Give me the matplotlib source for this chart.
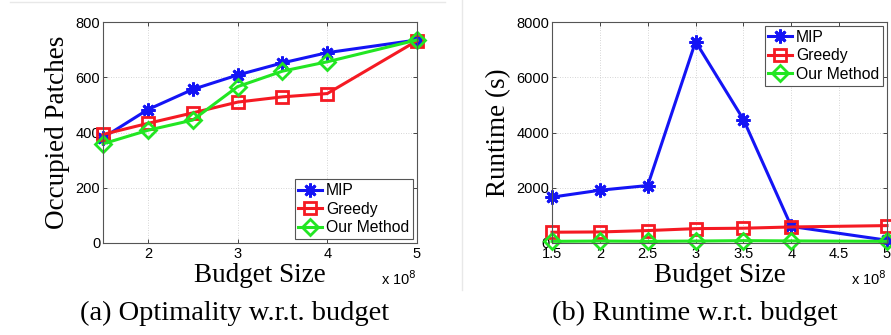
import matplotlib
matplotlib.use("Agg")
import matplotlib.pyplot as plt
from matplotlib.lines import Line2D

# ---- data ----
budget = [1.5, 2, 2.5, 3, 3.5, 4, 5]
series_names = ["MIP", "Greedy", "Our Method"]

occ_mip = [381, 483, 556, 608, 652, 689, 735]
occ_greedy = [393, 433, 471, 510, 529, 541, 732]
occ_ours = [359, 408, 445, 566, 622, 656, 735]

rt_mip = [1660, 1910, 2080, 7290, 4470, 600, 100]
rt_greedy = [390, 400, 450, 520, 535, 580, 630]
rt_ours = [60, 70, 60, 70, 85, 75, 60]

left_xticks = [2, 3, 4, 5]
right_xticks = [1.5, 2, 2.5, 3, 3.5, 4, 4.5, 5]
left_yticks = [0, 200, 400, 600, 800]
right_yticks = [0, 2000, 4000, 6000, 8000]

captions = ["(a) Optimality w.r.t. budget", "(b) Runtime w.r.t. budget"]

SANS = "Liberation Sans"
SERIF = "Liberation Serif"

colors = ["#1414f5", "#f51a23", "#22e622"]
markers = [(8, 2, 0), "s", "D"]
msizes = [10, 8, 8]

fig = plt.figure(figsize=(8.91, 3.35), dpi=100)
W, H = 891, 335

def ax_rect(l, r, t, b):
    return [l / W, 1 - b / H, (r - l) / W, (b - t) / H]

ax1 = fig.add_axes(ax_rect(103, 417, 22, 243))
ax2 = fig.add_axes(ax_rect(552, 887, 22, 243))

def style(ax, xt, yt, ylim, xticklabels):
    ax.set_xlim(1.5, 5)
    ax.set_ylim(*ylim)
    ax.set_xticks(xt)
    ax.set_xticklabels(xticklabels, fontfamily=SANS, fontsize=10.5)
    ax.set_yticks(yt)
    ax.set_yticklabels([str(v) for v in yt], fontfamily=SANS, fontsize=10.5)
    ax.tick_params(direction="in", length=3, top=True, right=True, width=0.7,
                   color="#444444", pad=2)
    ax.tick_params(axis="x", pad=3)
    ax.grid(True, linestyle=(0, (1, 2)), color="#c8c8c8", linewidth=0.6)
    for s in ax.spines.values():
        s.set_color("#555555")
        s.set_linewidth(0.8)

def draw(ax, ys):
    for y, c, m, ms, name in zip(ys, colors, markers, msizes, series_names):
        kw = dict(color=c, linewidth=2.2, marker=m, markersize=ms,
                  markeredgewidth=2.0, label=name, clip_on=False)
        if m != markers[0]:
            kw["markerfacecolor"] = "none"
        ax.plot(budget, y, **kw)

draw(ax1, [occ_mip, occ_greedy, occ_ours])
style(ax1, left_xticks, left_yticks, (0, 800), [str(v) for v in left_xticks])
draw(ax2, [rt_mip, rt_greedy, rt_ours])
style(ax2, right_xticks, right_yticks, (0, 8000),
      [("%g" % v) for v in right_xticks])

for ax, lab in [(ax1, "Occupied Patches"), (ax2, "Runtime (s)")]:
    ax.set_ylabel(lab, fontfamily=SERIF, fontsize=19.5, labelpad=4)
    ax.set_xlabel("Budget Size", fontfamily=SERIF, fontsize=19.5, labelpad=1)

legkw = dict(prop={"family": SANS, "size": 11.3}, fancybox=False,
             edgecolor="#555555", framealpha=1, borderpad=0.25,
             labelspacing=0.22, handlelength=1.5, handletextpad=0.25,
             borderaxespad=0.25)
leg1 = ax1.legend(loc="lower right", **legkw)
leg2 = ax2.legend(loc="upper right", **legkw)
for leg in (leg1, leg2):
    leg.get_frame().set_linewidth(0.8)

fig.text(399 / W, 1 - 279 / H, r"x 10$^{8}$", fontfamily=SANS, fontsize=10.5,
         ha="center", va="center")
fig.text(869 / W, 1 - 279 / H, r"x 10$^{8}$", fontfamily=SANS, fontsize=10.5,
         ha="center", va="center")

fig.text(235 / W, 1 - 313 / H, captions[0], fontfamily=SERIF, fontsize=20.5,
         ha="center", va="center")
fig.text(695 / W, 1 - 313 / H, captions[1], fontfamily=SERIF, fontsize=20.5,
         ha="center", va="center")

# light page borders
fig.add_artist(Line2D([10 / W, 445 / W], [1 - 2 / H, 1 - 2 / H],
                      color="#e8e8e8", linewidth=1))
fig.add_artist(Line2D([462 / W, 462 / W], [1, 1 - 290 / H],
                      color="#e8e8e8", linewidth=1))

fig.savefig("out.png", dpi=100)
